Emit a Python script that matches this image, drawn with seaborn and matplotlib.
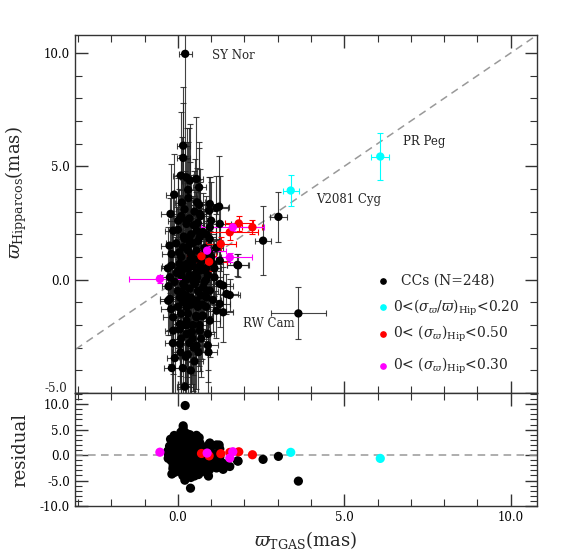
import matplotlib
matplotlib.use("Agg")
import matplotlib.pyplot as plt
from matplotlib.ticker import MultipleLocator, FormatStrFormatter, FuncFormatter
import matplotlib.transforms as mtransforms
import seaborn as sns
import pandas as pd
import numpy as np

# ---------------- data ----------------
cc_x = [0.22, 0.16, 0.16, 0.09, 0.26, 0.36, 0.56, -0.11, 0.31, 0.64, 0.58, 0.96, 1.24, 0.66, 0.94,
        0.01, -0.14, 0.26, 0.56, 0.66, 0.96, 1.26, -0.19, 0.16, 0.36, 0.56, -0.19, 0.01, 0.26, 0.66,
        1.06, 1.26, 1.79, -0.24, 0.16, 0.46, 0.76, 1.26, -0.24, 0.06, 0.26, 0.56, 0.86, 0.96, 1.36,
        1.46, 1.56, 1.36, 1.26, -0.14, 0.06, 0.26, 0.56, 0.76, -0.14, 0.26, 0.66, 0.06, 0.56, -0.09,
        0.39, 0.21, 0.96, 1.16, -0.29, 1.16,
        0.00, 0.10, 0.20, 0.30, 0.40, 0.50, 0.10, 0.30, 0.00, 0.20, 0.40, 0.45, 0.10, 0.35, 0.60,
        0.70, 0.80, 0.90, 0.50, 0.25, 0.05, 0.15, -0.05, 0.35, 0.50, 0.20, 0.60, 0.75, 0.85, 0.65,
        0.30, 0.50, 0.15, 0.00, 0.25, 0.70, 0.40, 0.55, 1.00, 1.10, 0.90, 0.10, -0.10, 0.20, 0.45,
        0.60, 0.30, 0.70, 0.40, 0.80, 0.15, 0.35, 0.05, 0.55, 0.25, 0.60, 0.45, 0.85, 0.35, 0.10,
        -0.25, -0.20, -0.30, -0.15, -0.22, -0.28, -0.18, 0.95, 1.05, 1.10, 0.90, 1.00, 0.85, 1.15, 0.92,
        0.12, 0.32, 0.48, 0.62, 0.78, 0.22, 0.42, 0.58, 0.72, 0.88, 0.18, 0.38, 0.52, 0.68, 0.82,
        0.08, 0.28, 0.44, 0.64, 0.74, -0.04, 0.14, 0.34, 0.54, 0.94, 0.24, 0.04, 0.48, 0.66, 0.86,
        0.38, 3.02, 2.56, 3.62, 1.81]
cc_y = [9.96, 5.91, 5.37, 4.59, 4.51, 4.37, 4.44, 3.75, 3.96, 4.07, 3.41, 3.34, 3.22, 2.90, 3.04,
        2.60, 2.16, 2.46, 2.16, 1.87, 2.31, 2.46, 1.13, 1.43, 1.57, 1.28, 0.62, 0.40, 0.69, 0.40,
        0.69, 0.84, 0.65, 0.10, -0.19, -0.04, -0.34, -0.19, -0.85, -0.78, -1.22, -0.93, -0.78, -0.49, -0.26,
        -0.63, -0.68, -1.44, -1.07, -1.66, -1.96, -1.81, -1.66, -1.59, -2.25, -2.40, -2.25, -2.84, -2.91, -3.46,
        -4.01, -4.72, -1.81, -1.37, -0.93, 3.16,
        -0.50, 0.20, -0.30, 0.50, -0.80, 0.90, 1.00, -1.50, -1.20, 1.80, 2.00, -2.00, -2.60, -2.80, -1.20,
        0.80, 1.40, 0.20, -0.20, 0.00, 0.70, -1.00, 1.60, 2.70, 3.00, 3.10, 2.50, 2.10, -1.20, -2.00,
        -3.30, -3.60, -3.90, 2.20, 2.60, -0.70, 1.10, 0.30, 1.00, 0.10, -2.40, -1.50, -0.10, -2.00, 0.60,
        1.70, 1.30, -2.60, -1.10, -0.10, 0.45, -0.40, -2.20, -1.60, -0.70, -0.50, 1.60, 0.50, 0.20, 2.80,
        1.50, -1.30, 0.50, -2.80, 2.90, -0.30, -3.90, 1.80, -0.90, 0.50, -2.90, 2.60, 0.00, 1.40, -3.20,
        3.40, 3.60, 2.40, -3.20, 1.10, -0.90, -2.30, 0.10, -1.60, -0.50, 1.90, 0.90, -1.00, 2.80, 0.40,
        -3.20, -2.00, -2.60, 3.30, -1.10, 0.30, -0.60, 1.80, -0.10, 1.20, -3.40, 1.20, -3.00, 0.60, 2.00,
        -6.12, 2.77, 1.72, -1.49, 0.63]
cc_xerr = [0.20, 0.20, 0.20, 0.25, 0.20, 0.25, 0.20, 0.25, 0.30, 0.20, 0.25, 0.30, 0.30, 0.20, 0.25,
           0.30, 0.25, 0.20, 0.30, 0.25, 0.30, 0.35, 0.30, 0.20, 0.25, 0.30, 0.30, 0.20, 0.25, 0.30,
           0.30, 0.30, 0.32, 0.30, 0.20, 0.25, 0.30, 0.30, 0.30, 0.25, 0.20, 0.30, 0.30, 0.25, 0.30,
           0.35, 0.30, 0.30, 0.30, 0.30, 0.25, 0.20, 0.30, 0.30, 0.25, 0.25, 0.30, 0.25, 0.30, 0.25,
           0.30, 0.25, 0.30, 0.30, 0.25, 0.35,
           0.20, 0.25, 0.20, 0.30, 0.25, 0.20, 0.30, 0.25, 0.20, 0.25, 0.30, 0.20, 0.25, 0.30, 0.20,
           0.25, 0.30, 0.25, 0.20, 0.30, 0.25, 0.20, 0.30, 0.25, 0.20, 0.25, 0.30, 0.20, 0.25, 0.30,
           0.20, 0.25, 0.30, 0.20, 0.25, 0.30, 0.20, 0.25, 0.30, 0.25, 0.20, 0.30, 0.25, 0.20, 0.25,
           0.30, 0.20, 0.25, 0.30, 0.20, 0.25, 0.30, 0.20, 0.25, 0.30, 0.20, 0.25, 0.30, 0.20, 0.25,
           0.25, 0.30, 0.20, 0.25, 0.30, 0.20, 0.25, 0.30, 0.25, 0.20, 0.30, 0.25, 0.30, 0.20, 0.25,
           0.20, 0.25, 0.30, 0.20, 0.25, 0.30, 0.20, 0.25, 0.30, 0.20, 0.25, 0.30, 0.20, 0.25, 0.30,
           0.25, 0.20, 0.30, 0.25, 0.20, 0.30, 0.25, 0.20, 0.30, 0.25, 0.20, 0.30, 0.25, 0.20, 0.30,
           0.25, 0.25, 0.25, 0.82, 0.32]
cc_yerr = [4.50, 2.60, 2.40, 2.80, 2.20, 2.50, 2.75, 1.80, 2.10, 2.00, 1.50, 1.20, 2.25, 1.40, 1.50,
           2.00, 1.60, 1.80, 1.70, 1.30, 1.00, 2.10, 1.90, 2.20, 1.90, 1.60, 1.70, 2.30, 2.00, 1.80,
           1.20, 0.90, 0.50, 1.50, 2.40, 2.00, 1.50, 1.10, 1.60, 2.20, 2.60, 1.90, 1.40, 1.30, 0.80,
           0.90, 0.70, 1.30, 1.00, 1.80, 2.30, 2.50, 2.00, 1.60, 1.90, 2.20, 1.80, 2.00, 1.90, 1.70,
           2.20, 2.60, 1.60, 1.20, 1.50, 1.40,
           2.50, 2.80, 2.20, 2.60, 2.30, 1.90, 2.70, 2.40, 2.10, 3.00, 2.60, 2.20, 2.50, 2.40, 1.80,
           1.60, 1.50, 1.40, 2.00, 2.90, 2.60, 2.30, 2.10, 2.50, 2.30, 2.80, 1.90, 1.70, 1.50, 1.80,
           2.20, 2.40, 2.60, 2.30, 2.70, 1.60, 2.20, 1.90, 1.30, 1.20, 1.60, 2.40, 2.00, 2.50, 2.10,
           1.80, 2.30, 1.70, 2.00, 1.40, 2.60, 2.20, 2.40, 1.90, 2.50, 1.70, 2.10, 1.40, 2.30, 2.70,
           2.10, 2.40, 1.80, 2.60, 2.20, 1.90, 2.30, 1.50, 1.40, 1.20, 1.60, 1.70, 1.30, 1.50, 1.80,
           2.90, 3.10, 2.40, 2.20, 2.00, 2.60, 2.30, 2.50, 1.90, 1.70, 2.80, 2.60, 2.20, 2.10, 1.60,
           2.40, 2.70, 2.30, 2.50, 1.80, 2.90, 2.60, 2.20, 2.00, 1.50, 2.30, 2.80, 2.10, 1.90, 1.70,
           2.50, 1.09, 1.52, 1.15, 0.50]

cyan_x = [3.39, 6.08]
cyan_y = [3.93, 5.43]
cyan_xerr = [0.24, 0.27]
cyan_yerr = [0.69, 1.05]

red_x = [1.83, 2.24, 1.56, 1.29, 0.71, 0.94]
red_y = [2.48, 2.31, 2.09, 1.57, 1.03, 0.79]
red_xerr = [0.42, 0.30, 0.85, 0.45, 0.45, 0.53]
red_yerr = [0.33, 0.30, 0.35, 0.30, 0.30, 0.40]

mag_x = [-0.54, 1.65, 0.88, 1.56]
mag_y = [0.03, 2.31, 1.28, 0.98]
mag_xerr = [0.94, 0.95, 0.58, 0.66]
mag_yerr = [0.19, 0.15, 0.20, 0.20]

star_names = ["SY Nor", "PR Peg", "V2081 Cyg", "RW Cam"]
label_x = [1.02, 6.76, 4.14, 1.95]
label_y = [9.88, 6.09, 3.53, -1.94]

legend_labels = ["CCs (N=248)",
                 r"0<$(\sigma_{\varpi}/\varpi)_{\rm Hip}$<0.20",
                 r"0< $(\sigma_{\varpi})_{\rm Hip}$<0.50",
                 r"0< $(\sigma_{\varpi})_{\rm Hip}$<0.30"]
legend_colors = ["black", "cyan", "red", "magenta"]

# ---------------- style ----------------
sns.set_style("ticks")
plt.rcParams["font.family"] = ["DejaVu Serif"]
plt.rcParams["mathtext.fontset"] = "dejavuserif"
plt.rcParams["axes.unicode_minus"] = False

groups = []
groups.append(pd.DataFrame({"x": cc_x, "y": cc_y, "xe": cc_xerr, "ye": cc_yerr, "c": "black"}))
groups.append(pd.DataFrame({"x": red_x, "y": red_y, "xe": red_xerr, "ye": red_yerr, "c": "red"}))
groups.append(pd.DataFrame({"x": mag_x, "y": mag_y, "xe": mag_xerr, "ye": mag_yerr, "c": "magenta"}))
groups.append(pd.DataFrame({"x": cyan_x, "y": cyan_y, "xe": cyan_xerr, "ye": cyan_yerr, "c": "cyan"}))
for g in groups:
    g["res"] = g["y"] - g["x"]

fig = plt.figure(figsize=(5.68, 5.51), dpi=100)
ax1 = fig.add_axes([0.132, 0.28675, 0.813, 0.64973])
ax2 = fig.add_axes([0.132, 0.08167, 0.813, 0.20508], sharex=ax1)

xlim = (-3.09, 10.78)
ax1.set_xlim(*xlim)
ax1.set_ylim(-5.0, 10.79)
ax2.set_ylim(-10.0, 12.2)

# 1:1 line
line_x = np.array([-5.0, 12.0])
ax1.plot(line_x, line_x, ls=(0, (5, 3.5)), color="#999999", lw=1.1, zorder=1)
ax2.axhline(0.0, ls=(0, (5, 3.5)), color="#999999", lw=1.1, zorder=1)

ebcol = {"black": "#222222", "red": "red", "magenta": "magenta", "cyan": "cyan"}
for g in groups:
    col = g["c"].iloc[0]
    ax1.errorbar(g["x"], g["y"], xerr=g["xe"], yerr=g["ye"], fmt="none",
                 ecolor=ebcol[col], elinewidth=0.8, capsize=2.2, capthick=0.8,
                 alpha=0.85 if col == "black" else 1.0, zorder=2)
    sns.scatterplot(data=g, x="x", y="y", color=col, s=36, edgecolor="none",
                    linewidth=0, ax=ax1, zorder=3, legend=False)
    sns.scatterplot(data=g, x="x", y="res", color=col, s=44, edgecolor="none",
                    linewidth=0, ax=ax2, zorder=3, legend=False)

for n, lx, ly in zip(star_names, label_x, label_y):
    ax1.text(lx, ly, n, fontsize=8.5, ha="left", va="center")

# manual legend
leg_y = [0.314, 0.239, 0.165, 0.0754]
for lab, col, yy in zip(legend_labels, legend_colors, leg_y):
    ax1.plot([0.667], [yy], "o", color=col, ms=3.8, transform=ax1.transAxes, clip_on=False)
    tx = 0.705 if col == "black" else 0.688
    ax1.text(tx, yy, lab, transform=ax1.transAxes, fontsize=10, ha="left", va="center")

for ax in (ax1, ax2):
    ax.set_xlabel("")
    ax.set_ylabel("")
    ax.xaxis.set_major_locator(MultipleLocator(5))
    ax.xaxis.set_minor_locator(MultipleLocator(1))
    ax.yaxis.set_major_locator(MultipleLocator(5))
    ax.yaxis.set_minor_locator(MultipleLocator(1))
    ax.yaxis.set_major_formatter(FormatStrFormatter("%.1f"))
    ax.xaxis.set_major_formatter(FormatStrFormatter("%.1f"))
    ax.tick_params(which="both", direction="in", top=True, right=True, colors="#333333",
                   labelcolor="black", labelsize=8.5)
    ax.tick_params(which="major", length=9, width=1.0)
    ax.tick_params(which="minor", length=5, width=0.8)
    for s in ax.spines.values():
        s.set_linewidth(1.0)
        s.set_color("#333333")

ax1.tick_params(labelbottom=False)

# the bottom "-5.0" of the upper panel is nudged up a little so it clears the "10.0" below
ax1.yaxis.set_major_formatter(FuncFormatter(lambda v, p: "" if abs(v + 5.0) < 1e-6 else "%.1f" % v))
off = mtransforms.ScaledTranslation(0, 3.0 / 72.0, fig.dpi_scale_trans)
ax1.text(-0.017, 0.0, "-5.0", transform=ax1.transAxes + off, fontsize=8.5,
         ha="right", va="center")

ax1.set_ylabel(r"$\varpi_{\rm Hipparcos}$(mas)", fontsize=13)
ax1.yaxis.set_label_coords(-0.1, 0.56)
ax2.set_ylabel("residual", fontsize=13)
ax2.yaxis.set_label_coords(-0.1, 0.5)
ax2.set_xlabel(r"$\varpi_{\rm TGAS}$(mas)", fontsize=13, labelpad=4)

fig.savefig("out.png", dpi=100)
